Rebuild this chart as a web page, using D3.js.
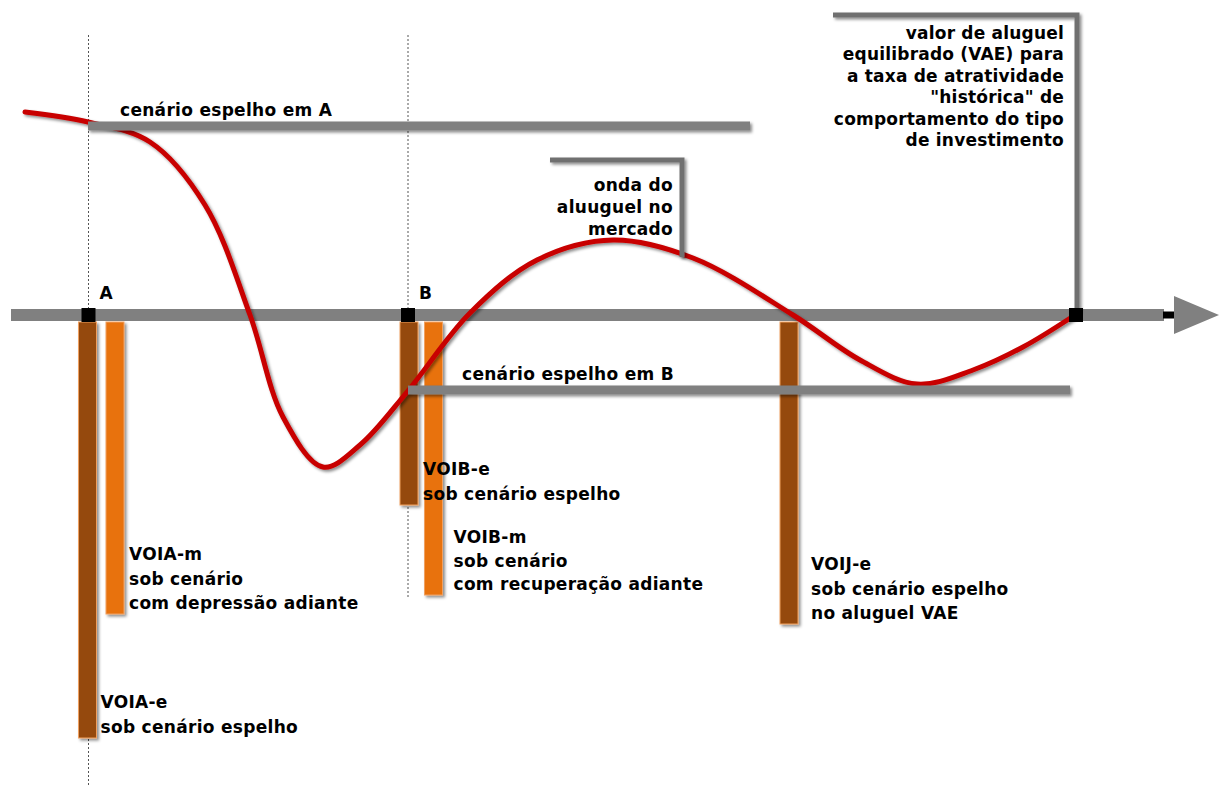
<!DOCTYPE html>
<html>
<head>
<meta charset="utf-8">
<script src="https://cdn.jsdelivr.net/npm/d3@7"></script>
<style>
  body { margin: 0; background: #fff; }
  svg text { font-family: "DejaVu Sans", Verdana, sans-serif; font-weight: bold; font-size: 17px; fill: #000; }
</style>
</head>
<body>
<svg id="chart"></svg>
<script>
// time along the axis (t) and rent level relative to VAE (v)
var rentWave = [
  {t: 2.5, v: 20.3}, {t: 8.8, v: 19.3}, {t: 15, v: 17.3}, {t: 20.5, v: 11},
  {t: 25, v: 0}, {t: 28.3, v: -10.2}, {t: 32.3, v: -15.2}, {t: 36, v: -13},
  {t: 40.7, v: -7.7}, {t: 47, v: 0.2}, {t: 53.7, v: 5.5}, {t: 61.3, v: 7.5},
  {t: 69.3, v: 5.7}, {t: 79.3, v: 0}, {t: 86, v: -4.5}, {t: 91.7, v: -6.9},
  {t: 97.3, v: -5.5}, {t: 102.3, v: -3.2}, {t: 107.5, v: 0}
];

var markerNames = ["A", "B", "VAE"];
var markerTimes = [8.85, 40.8, 107.6];

var mirrorNames = ["cenário espelho em A", "cenário espelho em B"];
var mirrorStart = [8.8, 40.8];
var mirrorEnd   = [75, 107];
var mirrorLevel = [18.9, -7.5];

var barNames  = ["VOIA-e", "VOIA-m", "VOIB-e", "VOIB-m", "VOIJ-e"];
var barTimes  = [8.75, 11.5, 40.9, 43.35, 78.9];
var barValues = [-42.3, -29.9, -19.0, -28.0, -30.9];
var barKinds  = ["e", "m", "e", "m", "e"];
var barLabels = [
  ["VOIA-e", "sob cenário espelho"],
  ["VOIA-m", "sob cenário", "com depressão adiante"],
  ["VOIB-e", "sob cenário espelho"],
  ["VOIB-m", "sob cenário", "com recuperação adiante"],
  ["VOIJ-e", "sob cenário espelho", "no aluguel VAE"]
];

var waveNote = ["onda do", "aluuguel no", "mercado"];
var vaeNote = ["valor de aluguel", "equilibrado (VAE) para", "a taxa de atratividade",
               "\"histórica\" de", "comportamento do tipo", "de investimento"];

var width = 1219, height = 789;

var x = d3.scaleLinear().domain([0, 121.9]).range([0, width]);
var y = d3.scaleLinear().domain([31.5, -47.4]).range([0, height]);
var color = d3.scaleOrdinal().domain(["e", "m"]).range(["#954a0b", "#e8720f"]);

var svg = d3.select("#chart")
  .attr("width", width)
  .attr("height", height);

var defs = svg.append("defs");
defs.append("filter")
  .attr("id", "shadow")
  .attr("filterUnits", "userSpaceOnUse")
  .attr("x", 0).attr("y", 0)
  .attr("width", width).attr("height", height)
  .append("feDropShadow")
  .attr("dx", 2).attr("dy", 2)
  .attr("stdDeviation", 1.5)
  .attr("flood-color", "#000")
  .attr("flood-opacity", 0.45);

// dotted guides at A and B
var guideLow = [-47, -28.2];
svg.selectAll(".guide")
  .data([0, 1])
  .enter()
  .append("line")
  .attr("x1", function(i) { return x(markerTimes[i]); })
  .attr("x2", function(i) { return x(markerTimes[i]); })
  .attr("y1", y(28))
  .attr("y2", function(i) { return y(guideLow[i]); })
  .attr("stroke", "#555")
  .attr("stroke-width", 1)
  .attr("stroke-dasharray", "2,2");

// main axis with arrow
svg.append("line")
  .attr("x1", x(1.1)).attr("x2", x(116.4))
  .attr("y1", y(0)).attr("y2", y(0))
  .attr("stroke", "#808080")
  .attr("stroke-width", 12);

svg.append("rect")
  .attr("x", x(116.3)).attr("y", y(0) - 3.5)
  .attr("width", 11).attr("height", 7)
  .attr("fill", "#000");

svg.append("path")
  .attr("d", "M" + x(117.4) + "," + (y(0) - 19) + "L" + x(121.9) + "," + y(0) +
             "L" + x(117.4) + "," + (y(0) + 19) + "Z")
  .attr("fill", "#808080");

// bars
svg.selectAll(".bar")
  .data(barNames)
  .enter()
  .append("rect")
  .attr("x", function(d, i) { return x(barTimes[i]) - 9; })
  .attr("y", y(-0.7))
  .attr("width", 18)
  .attr("height", function(d, i) { return y(barValues[i]) - y(-0.7); })
  .attr("fill", function(d, i) { return color(barKinds[i]); })
  .attr("stroke", "#f0a060")
  .attr("stroke-width", 1)
  .attr("filter", "url(#shadow)");

var labelDx = [4, 5, 5, 11, 13];
var lineGap = [25, 24.5, 25, 23.5, 24.5];
barLabels.forEach(function(lines, i) {
  var t = svg.append("text")
    .attr("x", x(barTimes[i]) + 9 + labelDx[i])
    .style("letter-spacing", "0.3px");
  lines.forEach(function(s, j) {
    t.append("tspan")
      .attr("x", x(barTimes[i]) + 9 + labelDx[i])
      .attr("y", y(barValues[i]) - 5 - (lines.length - 1 - j) * lineGap[i])
      .text(s);
  });
});

// rent wave
var line = d3.line()
  .x(function(d) { return x(d.t); })
  .y(function(d) { return y(d.v); })
  .curve(d3.curveCatmullRom.alpha(0.5));

svg.append("path")
  .datum(rentWave)
  .attr("d", line)
  .attr("fill", "none")
  .attr("stroke", "#c80000")
  .attr("stroke-width", 5)
  .attr("stroke-linecap", "round")
  .attr("filter", "url(#shadow)");

// mirror scenario lines (drawn over bars and wave)
svg.selectAll(".mirror")
  .data(mirrorNames)
  .enter()
  .append("line")
  .attr("x1", function(d, i) { return x(mirrorStart[i]); })
  .attr("x2", function(d, i) { return x(mirrorEnd[i]); })
  .attr("y1", function(d, i) { return y(mirrorLevel[i]); })
  .attr("y2", function(d, i) { return y(mirrorLevel[i]); })
  .attr("stroke", "#808080")
  .attr("stroke-width", 9)
  .attr("filter", "url(#shadow)");

var mirrorTextDx = [32, 54];
svg.selectAll(".mirror-label")
  .data(mirrorNames)
  .enter()
  .append("text")
  .attr("x", function(d, i) { return x(mirrorStart[i]) + mirrorTextDx[i]; })
  .attr("y", function(d, i) { return y(mirrorLevel[i]) - 10; })
  .style("letter-spacing", "0.3px")
  .text(function(d) { return d; });

// callout for the wave
svg.append("path")
  .attr("d", "M" + x(55) + "," + y(15.5) + "H" + x(68.2) + "V" + y(5.8))
  .attr("fill", "none")
  .attr("stroke", "#707070")
  .attr("stroke-width", 5)
  .attr("filter", "url(#shadow)");

var wn = svg.append("text").attr("text-anchor", "end").style("letter-spacing", "0.3px");
waveNote.forEach(function(s, j) {
  wn.append("tspan").attr("x", x(67.3)).attr("y", y(12.4) + j * 22).text(s);
});

// callout for VAE
svg.append("path")
  .attr("d", "M" + x(83.3) + "," + y(30) + "H" + x(107.7) + "V" + y(0.3))
  .attr("fill", "none")
  .attr("stroke", "#707070")
  .attr("stroke-width", 5)
  .attr("filter", "url(#shadow)");

var vn = svg.append("text").attr("text-anchor", "end").style("letter-spacing", "0.2px");
vaeNote.forEach(function(s, j) {
  vn.append("tspan").attr("x", x(106.4)).attr("y", y(27.6) + j * 21.4).text(s);
});

// markers on the axis
svg.selectAll(".marker")
  .data(markerNames)
  .enter()
  .append("rect")
  .attr("x", function(d, i) { return x(markerTimes[i]) - 7; })
  .attr("y", y(0) - 7)
  .attr("width", 14)
  .attr("height", 14)
  .attr("fill", "#000");

svg.selectAll(".marker-label")
  .data(markerNames.slice(0, 2))
  .enter()
  .append("text")
  .attr("x", function(d, i) { return x(markerTimes[i]) + 11; })
  .attr("y", y(0) - 16)
  .text(function(d) { return d; });
</script>
</body>
</html>
